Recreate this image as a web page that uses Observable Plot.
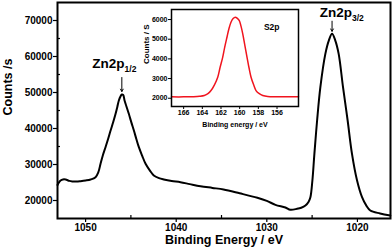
<!DOCTYPE html>
<html><head><meta charset="utf-8">
<script src="https://cdn.jsdelivr.net/npm/d3@7"></script>
<script src="https://cdn.jsdelivr.net/npm/@observablehq/plot@0.6"></script>
<style>
html,body{margin:0;padding:0;background:#fff;}
#wrap{position:relative;width:392px;height:252px;overflow:hidden;}
#inset{position:absolute;left:140px;top:4px;}
</style></head><body>
<div id="wrap"><div id="main"></div><div id="inset"></div></div>
<script>
// Main Zn 2p spectrum
const energy = [1053.1,1052.95,1052.76,1052.5,1052.2,1051.8,1051.47,1051.0,1050.55,1050.0,1049.45,1048.9,1048.6,1048.35,1048.1,1047.8,1047.5,1047.24,1046.95,1046.69,1046.5,1046.33,1046.15,1046.0,1045.85,1045.7,1045.5,1045.23,1044.95,1044.67,1044.4,1044.12,1043.75,1043.38,1042.9,1042.47,1041.9,1041.37,1040.5,1039.53,1038.5,1037.32,1036.0,1034.78,1033.0,1031.04,1030.0,1029.05,1027.95,1027.4,1026.66,1026.2,1025.74,1025.4,1025.19,1024.97,1024.75,1024.45,1024.09,1023.54,1023.15,1022.8,1022.45,1022.07,1021.59,1021.08,1020.6,1020.04,1019.49,1019.0,1018.58,1017.5,1016.37];
const counts = [24300,25000,25560,25850,25830,25450,25300,25250,25360,25550,25830,26470,27800,30190,32500,34810,37200,39440,41800,44080,46000,47780,48900,49440,49300,47780,46200,44080,41700,39440,37100,34810,32400,30190,28300,26940,26200,25830,25400,25080,24550,23970,23500,23060,22000,20750,19900,18800,18060,17420,17690,18000,18610,19600,20920,25560,32960,42220,51470,60740,64500,66300,64500,60740,51470,42220,32960,25560,20920,18500,17220,16400,15830];
const xTicks = [1050,1040,1030,1020];
const xMinor = [1045,1035,1025];
const yTicks = [20000,30000,40000,50000,60000,70000];
const yMinor = [25000,35000,45000,55000,65000];

// Peak annotations
const peakNames = ["Zn2p","Zn2p"];
const peakSubs = ["1/2","3/2"];
const peakLabelE = [1045.7,1020.6];
const peakLabelC = [56670,71110];
const arrowE = [1046.0,1022.8];
const arrowFrom = [54170,69810];
const arrowTo = [50280,67000];

// Inset S 2p spectrum
const sEnergy = [167.3,166.0,165.0,164.3,163.79,163.4,163.07,162.7,162.35,162.1,161.82,161.6,161.36,161.15,160.93,160.7,160.47,160.25,160.04,159.85,159.67,159.45,159.21,159.0,158.78,158.5,158.25,157.9,157.53,157.0,156.0,155.0,153.7];
const sCounts = [2070,2070,2080,2100,2140,2230,2390,2680,3070,3560,4080,4600,5100,5530,5860,6050,6120,6060,5950,5650,5270,4700,4080,3550,3070,2680,2390,2230,2140,2090,2080,2080,2080];
const sxTicks = [166,164,162,160,158,156];
const syTicks = [2000,3000,4000,5000,6000];

const font = "'Liberation Sans', Arial, Helvetica, sans-serif";
const idx = d3.range(peakNames.length);

const main = Plot.plot({
  width: 392, height: 252,
  marginLeft: 57, marginRight: 2, marginTop: 2, marginBottom: 34,
  style: {fontFamily: font, fontWeight: "bold", fontSize: "10px", background: "white", color: "black"},
  x: {domain: [1053.1, 1016.35], label: null},
  y: {domain: [15000, 75000], label: null},
  marks: [
    Plot.axisX(xTicks, {tickSize: 4, tickPadding: 1, tickFormat: d => String(d), label: null, strokeWidth: 1.2}),
    Plot.axisX(xMinor, {tickSize: -3, tickFormat: () => "", label: null, strokeWidth: 1.2}),
    Plot.axisY(yTicks, {tickSize: 4, tickPadding: 1, tickFormat: d => String(d), label: null, strokeWidth: 1.2}),
    Plot.axisY(yMinor, {tickSize: -3, tickFormat: () => "", label: null, strokeWidth: 1.2}),
    Plot.line(energy, {x: energy, y: counts, stroke: "black", strokeWidth: 2, curve: "catmull-rom"}),
    Plot.arrow(idx, {x1: i => arrowE[i], x2: i => arrowE[i], y1: i => arrowFrom[i], y2: i => arrowTo[i], stroke: "black", strokeWidth: 1, headLength: 4}),
    Plot.text(idx, {x: i => peakLabelE[i], y: i => peakLabelC[i], text: i => peakNames[i], textAnchor: "end", lineAnchor: "bottom", fontSize: 13.5, fontWeight: "bold", fill: "black"}),
    Plot.text(idx, {x: i => peakLabelE[i], y: i => peakLabelC[i], text: i => peakSubs[i], textAnchor: "start", lineAnchor: "bottom", dy: 4, fontSize: 8.5, fontWeight: "bold", fill: "black"}),
    Plot.text(["Binding Energy / eV"], {frameAnchor: "bottom", dy: 25, fontSize: 12.5, fontWeight: "bold", fill: "black"}),
    Plot.text(["Counts /s"], {frameAnchor: "left", dx: -50, dy: 5, rotate: -90, fontSize: 12.5, fontWeight: "bold", fill: "black"}),
    Plot.frame({stroke: "black", strokeWidth: 2})
  ]
});
document.getElementById("main").appendChild(main);

const inset = Plot.plot({
  width: 160, height: 128,
  marginLeft: 31, marginRight: 2, marginTop: 5, marginBottom: 26,
  style: {fontFamily: font, fontWeight: "bold", fontSize: "7px", background: "transparent", color: "black", overflow: "visible"},
  x: {domain: [167.3, 153.7], label: null},
  y: {domain: [1580, 6510], label: null},
  marks: [
    Plot.frame({fill: "white"}),
    Plot.axisX(sxTicks, {tickSize: 3, tickPadding: 1, tickFormat: d => String(d), label: null, fontSize: 7}),
    Plot.axisY(syTicks, {tickSize: 3, tickPadding: 1, tickFormat: d => String(d), label: null, fontSize: 7}),
    Plot.line(sEnergy, {x: sEnergy, y: sCounts, stroke: "#f0141e", strokeWidth: 1.5, curve: "catmull-rom"}),
    Plot.text(["S2p"], {frameAnchor: "top-right", dx: -19, dy: 14, fontSize: 8.5, fontWeight: "bold", fill: "black"}),
    Plot.text(["Binding energy / eV"], {frameAnchor: "bottom", dy: 20, fontSize: 7, fontWeight: "bold", fill: "black"}),
    Plot.text(["Counts / S"], {frameAnchor: "left", dx: -25, dy: 6, rotate: -90, fontSize: 8, fontWeight: "bold", fill: "black"}),
    Plot.frame({stroke: "black", strokeWidth: 1.5})
  ]
});
document.getElementById("inset").appendChild(inset);
</script>
</body></html>
